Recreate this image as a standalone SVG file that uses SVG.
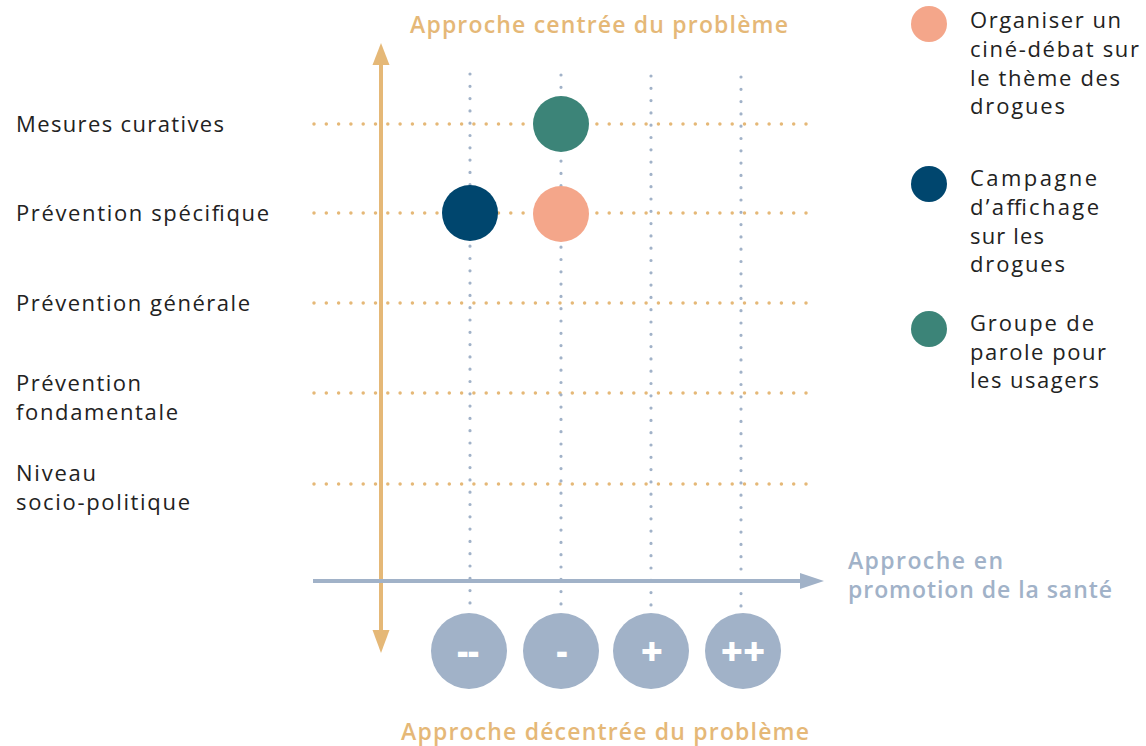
<svg xmlns="http://www.w3.org/2000/svg" width="1146" height="746" viewBox="0 0 1146 746">
<style>
.lbl{font-family:"Open Sans","Liberation Sans",sans-serif;font-size:22px;fill:#222222;}
.ax{font-family:"Open Sans","Liberation Sans",sans-serif;font-size:23px;font-weight:600;}
.sym{font-family:"Open Sans","Liberation Sans",sans-serif;font-size:34px;font-weight:800;fill:#ffffff;text-anchor:middle;}
.sym2{font-family:"Open Sans","Liberation Sans",sans-serif;font-size:38px;font-weight:800;fill:#ffffff;text-anchor:middle;}
.hdot{stroke:#e5b877;stroke-width:3.5;stroke-linecap:round;stroke-dasharray:0 12.3;fill:none;}
.vdot{stroke:#a1b2c8;stroke-width:3.2;stroke-linecap:round;stroke-dasharray:0 12.3;fill:none;}
</style>
<rect width="1146" height="746" fill="#ffffff"/>
<g id="grid">
<path class="hdot" d="M314 124H810M314 213H810M314 303H810M314 393H810M314 484H810"/>
<path class="vdot" d="M470 74V607M561 75V607M651 76V607M741 77V607"/>
</g>
<g id="connectors">
<line x1="381" y1="63" x2="381" y2="632" stroke="#e5b877" stroke-width="4"/>
<polygon points="381,43 372.5,65 389.5,65" fill="#e5b877"/>
<polygon points="381,653 372.5,630 389.5,630" fill="#e5b877"/>
<line x1="313" y1="581" x2="802" y2="581" stroke="#a1b2c8" stroke-width="4"/>
<polygon points="824,581 800,573 800,589" fill="#a1b2c8"/>
</g>
<g id="axis-labels">
<text class="ax" x="410" y="33" fill="#e5b877" textLength="378">Approche centrée du problème</text>
<text class="ax" x="401" y="740" fill="#e5b877" textLength="408">Approche décentrée du problème</text>
<text class="ax" x="848" y="569" fill="#a1b2c8" textLength="155">Approche en</text>
<text class="ax" x="848" y="598" fill="#a1b2c8" textLength="264">promotion de la santé</text>
</g>
<g id="row-labels">
<text class="lbl" x="16" y="132" textLength="208">Mesures curatives</text>
<text class="lbl" x="16" y="221" textLength="253">Prévention spécifique</text>
<text class="lbl" x="16" y="311" textLength="234">Prévention générale</text>
<text class="lbl" x="16" y="391" textLength="125">Prévention</text>
<text class="lbl" x="16" y="420" textLength="162">fondamentale</text>
<text class="lbl" x="16" y="481" textLength="80">Niveau</text>
<text class="lbl" x="16" y="510" textLength="174">socio-politique</text>
</g>
<g id="node-groupe"><circle cx="561" cy="124" r="28" fill="#3c8478"/></g>
<g id="node-campagne"><circle cx="470" cy="213" r="28" fill="#00466e"/></g>
<g id="node-cine"><circle cx="561" cy="214" r="28" fill="#f4a68a"/></g>
<g id="scale-mm"><circle cx="469" cy="651" r="38" fill="#a1b2c8"/><text class="sym" x="468" y="663">--</text></g>
<g id="scale-m"><circle cx="561" cy="651" r="38" fill="#a1b2c8"/><text class="sym" x="562" y="663">-</text></g>
<g id="scale-p"><circle cx="651" cy="651" r="38" fill="#a1b2c8"/><text class="sym2" x="652" y="665">+</text></g>
<g id="scale-pp"><circle cx="743" cy="651" r="38" fill="#a1b2c8"/><text class="sym2" x="743" y="665">++</text></g>
<g id="legend">
<circle cx="929" cy="24" r="18" fill="#f4a68a"/>
<text class="lbl" x="970" y="28" textLength="151">Organiser un</text>
<text class="lbl" x="970" y="57" textLength="169">ciné-débat sur</text>
<text class="lbl" x="970" y="86" textLength="150">le thème des</text>
<text class="lbl" x="970" y="114" textLength="95">drogues</text>
<circle cx="929" cy="184" r="18" fill="#00466e"/>
<text class="lbl" x="970" y="186" textLength="127">Campagne</text>
<text class="lbl" x="970" y="215" textLength="129">d’affichage</text>
<text class="lbl" x="970" y="244" textLength="74">sur les</text>
<text class="lbl" x="970" y="272" textLength="95">drogues</text>
<circle cx="929" cy="329" r="18" fill="#3c8478"/>
<text class="lbl" x="970" y="331" textLength="124">Groupe de</text>
<text class="lbl" x="970" y="360" textLength="136">parole pour</text>
<text class="lbl" x="970" y="388" textLength="129">les usagers</text>
</g>
</svg>
